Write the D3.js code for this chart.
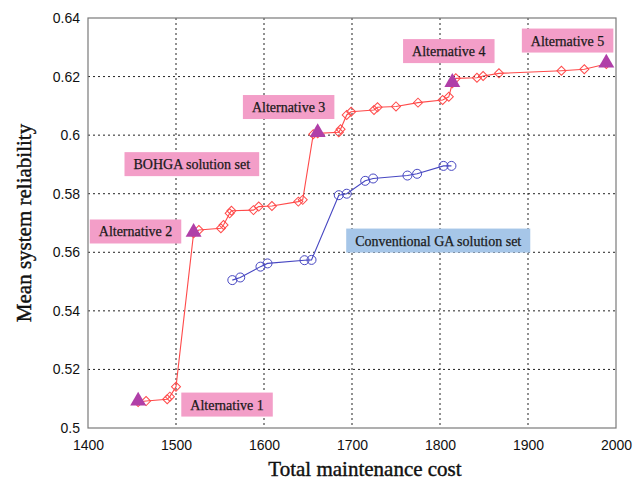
<!DOCTYPE html>
<html>
<head>
<meta charset="utf-8">
<script src="https://cdn.jsdelivr.net/npm/d3@7"></script>
<style>
  body { margin: 0; background: #fff; }
  svg { display: block; }
</style>
</head>
<body>
<svg width="644" height="482"></svg>
<script>
// BOHGA solution set (cost, reliability)
const bohgaCost = [1457, 1466, 1490, 1493, 1500, 1520, 1526, 1551, 1554, 1561, 1563, 1588, 1594, 1609,
  1639, 1644, 1656, 1661, 1685, 1687, 1694, 1699, 1725, 1729, 1750, 1775, 1803, 1810, 1814, 1818,
  1842, 1849, 1867, 1938, 1964, 1989];
const bohgaRel = [0.5089, 0.5092, 0.5098, 0.5107, 0.5141, 0.5665, 0.5676, 0.5682, 0.5693, 0.5733, 0.5742,
  0.5744, 0.5756, 0.5758, 0.5773, 0.5779, 0.6003, 0.6006, 0.6010, 0.6020, 0.6069, 0.6080, 0.6086, 0.6095,
  0.6098, 0.6111, 0.6120, 0.6131, 0.6177, 0.6194, 0.6196, 0.6202, 0.6211, 0.6220, 0.6225, 0.6243];

// conventional GA solution set
const gaCost = [1564, 1573, 1596, 1604, 1646, 1654, 1685, 1694, 1715, 1724, 1763, 1774, 1804, 1813];
const gaRel = [0.5505, 0.5514, 0.5551, 0.5562, 0.5573, 0.5574, 0.5795, 0.5800, 0.5844, 0.5852, 0.5862,
  0.5868, 0.5895, 0.5895];

// chosen alternatives (triangles)
const altCost = [1457, 1520, 1661, 1814, 1989];
const altRel = [0.5089, 0.5665, 0.6006, 0.6177, 0.6243];

// annotation boxes: text and centre in data units
const noteText = ['Alternative 1', 'Alternative 2', 'Alternative 3', 'Alternative 4', 'Alternative 5',
  'BOHGA solution set', 'Conventional GA solution set'];
const noteCost = [1558, 1454, 1628, 1810, 1945, 1518, 1798];
const noteRel = [0.5080, 0.5671, 0.6096, 0.6287, 0.6323, 0.5901, 0.5640];
const noteKind = ['pink', 'pink', 'pink', 'pink', 'pink', 'pink', 'blue'];

const xTicks = [1400, 1500, 1600, 1700, 1800, 1900, 2000];
const yTicks = [0.5, 0.52, 0.54, 0.56, 0.58, 0.6, 0.62, 0.64];

const svg = d3.select('svg');
const pLeft = 88, pRight = 616, pTop = 18, pBottom = 428;

const x = d3.scaleLinear().domain([1400, 2000]).range([pLeft, pRight]);
const y = d3.scaleLinear().domain([0.5, 0.64]).range([pBottom, pTop]);

const red = '#ff4a4a', blue = '#4747c2', purple = '#b03fa8';

// grid
const grid = svg.append('g');
grid.selectAll('.gx').data(xTicks.slice(1, -1)).enter().append('line')
  .attr('x1', d => x(d)).attr('x2', d => x(d))
  .attr('y1', pTop).attr('y2', pBottom)
  .attr('stroke', '#222').attr('stroke-width', 1).attr('stroke-dasharray', '2,3');
grid.selectAll('.gy').data(yTicks.slice(1, -1)).enter().append('line')
  .attr('x1', pLeft).attr('x2', pRight)
  .attr('y1', d => y(d)).attr('y2', d => y(d))
  .attr('stroke', '#222').attr('stroke-width', 1).attr('stroke-dasharray', '2,3');

// frame
svg.append('rect')
  .attr('x', pLeft).attr('y', pTop).attr('width', pRight - pLeft).attr('height', pBottom - pTop)
  .attr('fill', 'none').attr('stroke', '#7a7a7a').attr('stroke-width', 1.2);

// axes
const axX = svg.append('g').attr('transform', `translate(0,${pBottom})`)
  .call(d3.axisBottom(x).tickValues(xTicks).tickSize(0).tickPadding(12).tickFormat(d3.format('d')));
const axY = svg.append('g').attr('transform', `translate(${pLeft},0)`)
  .call(d3.axisLeft(y).tickValues(yTicks).tickSize(0).tickPadding(8).tickFormat(d => String(+d.toFixed(2))));
[axX, axY].forEach(a => {
  a.select('.domain').remove();
  a.selectAll('text').attr('font-family', 'Liberation Sans, Arial, sans-serif')
    .attr('font-size', 14).attr('fill', '#111');
});

// annotations (drawn before data so markers sit on top)
const notes = svg.append('g');
noteText.forEach((t, i) => {
  const g = notes.append('g');
  const rect = g.append('rect');
  const txt = g.append('text')
    .attr('x', x(noteCost[i])).attr('y', y(noteRel[i]) + 5)
    .attr('text-anchor', 'middle')
    .attr('font-family', 'Liberation Serif, Times New Roman, serif')
    .attr('font-size', 14).attr('fill', '#1a1a1a')
    .attr('stroke', '#1a1a1a').attr('stroke-width', 0.25)
    .text(t);
  const w = txt.node().getComputedTextLength() + 18;
  rect.attr('x', x(noteCost[i]) - w / 2).attr('y', y(noteRel[i]) - 12)
    .attr('width', w).attr('height', 24)
    .attr('fill', noteKind[i] === 'blue' ? '#a6c6e8' : '#f39ec8');
});

// series lines
const line = d3.line().x(d => x(d[0])).y(d => y(d[1]));
const bohga = bohgaCost.map((c, i) => [c, bohgaRel[i]]);
const ga = gaCost.map((c, i) => [c, gaRel[i]]);

svg.append('path').datum(bohga).attr('d', line)
  .attr('fill', 'none').attr('stroke', red).attr('stroke-width', 1.1);
svg.append('path').datum(ga).attr('d', line)
  .attr('fill', 'none').attr('stroke', blue).attr('stroke-width', 1.1);

// diamonds
svg.append('g').selectAll('path').data(bohga).enter().append('path')
  .attr('transform', d => `translate(${x(d[0])},${y(d[1])}) rotate(45)`)
  .attr('d', 'M-3.2,-3.2H3.2V3.2H-3.2Z')
  .attr('fill', 'none').attr('stroke', red).attr('stroke-width', 1);

// circles
svg.append('g').selectAll('circle').data(ga).enter().append('circle')
  .attr('cx', d => x(d[0])).attr('cy', d => y(d[1])).attr('r', 4.5)
  .attr('fill', 'none').attr('stroke', blue).attr('stroke-width', 1);

// triangles
const tri = d3.symbol().type(d3.symbolTriangle).size(110);
svg.append('g').selectAll('path').data(altCost).enter().append('path')
  .attr('transform', (d, i) => `translate(${x(d)},${y(altRel[i]) - 1})`)
  .attr('d', tri)
  .attr('fill', purple);

// axis titles
svg.append('text')
  .attr('x', (pLeft + pRight) / 2 + 13).attr('y', 476)
  .attr('text-anchor', 'middle')
  .attr('font-family', 'Liberation Serif, Times New Roman, serif')
  .attr('font-size', 21).attr('fill', '#111')
  .attr('stroke', '#111').attr('stroke-width', 0.4)
  .text('Total maintenance cost');
svg.append('text')
  .attr('transform', `translate(31,${(pTop + pBottom) / 2}) rotate(-90)`)
  .attr('text-anchor', 'middle')
  .attr('font-family', 'Liberation Serif, Times New Roman, serif')
  .attr('font-size', 21).attr('fill', '#111')
  .attr('stroke', '#111').attr('stroke-width', 0.4)
  .text('Mean system reliability');
</script>
</body>
</html>
